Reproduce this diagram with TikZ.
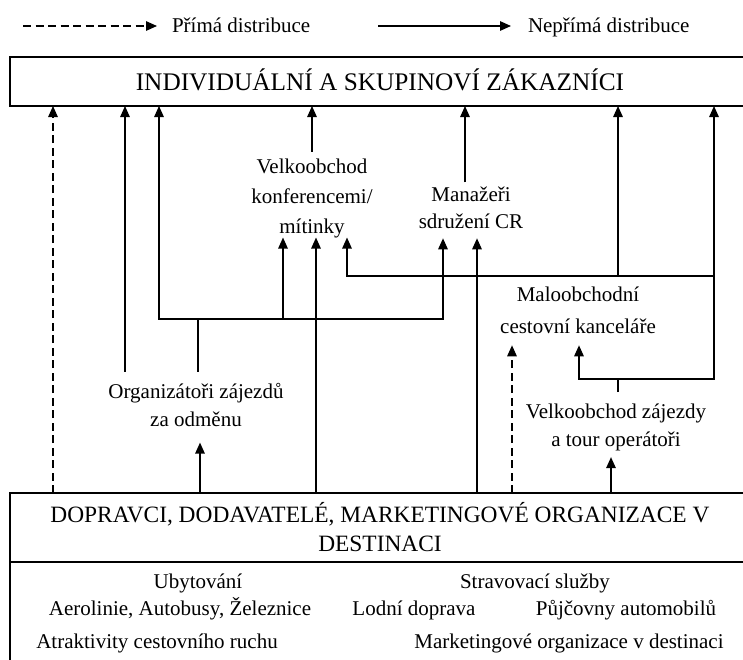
\documentclass[tikz,border=0pt]{standalone}
\usepackage{fontspec}
\setmainfont{Liberation Serif}
\usetikzlibrary{arrows.meta}
\begin{document}
\begin{tikzpicture}[x=1pt,y=-1pt,
  ln/.style={line width=1.4pt},
  arr/.style={ln,-{Triangle[length=11pt,width=9.5pt]}},
  darr/.style={arr,dash pattern=on 8pt off 4.5pt},
  lbl/.style={inner sep=0pt,outer sep=0pt,align=center},
  boxst/.style={draw,line width=1.5pt,inner sep=0pt,outer sep=0pt,minimum width=740pt}]
\useasboundingbox (0,0) rectangle (743,659);
\clip (0,0) rectangle (743,659);

% legend
\coordinate (lg1) at (23,26);
\coordinate (lg2) at (378,26);
\node[lbl,anchor=base west,font=\fontsize{21}{28}\selectfont] (pd) at (172,32.5) {Přímá distribuce};
\node[lbl,anchor=base west,font=\fontsize{21}{28}\selectfont] (nd) at (528,32.5) {Nepřímá distribuce};
\draw[darr,shorten >=15pt] (lg1) -- (lg1 -| pd.west);
\draw[arr,shorten >=17pt] (lg2) -- (lg2 -| nd.west);

% boxes
\node[boxst,minimum height=49pt,text height=18pt,text depth=0pt,font=\fontsize{25.3}{30}\selectfont] (top) at (380,81.5) {INDIVIDUÁLNÍ A SKUPINOVÍ ZÁKAZNÍCI};
\node[boxst,minimum height=69pt,align=center,font=\fontsize{23.4}{29}\selectfont] (bot) at (380,527.5) {DOPRAVCI, DODAVATELÉ, MARKETINGOVÉ ORGANIZACE V\\DESTINACI};
\node[boxst,minimum height=130pt,anchor=north] (list) at (bot.south) {};

% list items
\begin{scope}[every node/.style={lbl,anchor=base,font=\fontsize{21}{28}\selectfont}]
\node (i1) at (198,588) {Ubytování};
\node (i2) at (535,588) {Stravovací služby};
\node (i3) at (180,615) {Aerolinie, Autobusy, Železnice};
\node (i4) at (414,615) {Lodní doprava};
\node (i5) at (626,615) {Půjčovny automobilů};
\node (i6) at (157,648) {Atraktivity cestovního ruchu};
\node (i7) at (569,648) {Marketingové organizace v destinaci};
\end{scope}

% intermediaries
\node[lbl,font=\fontsize{21}{30}\selectfont] (vk) at (312,198) {Velkoobchod\\konferencemi/\\mítinky};
\node[lbl,font=\fontsize{21}{27}\selectfont] (man) at (471,207.4) {Manažeři\\sdružení CR};
\node[lbl,font=\fontsize{21}{28}\selectfont] (org) at (196,404.9) {Organizátoři zájezdů\\za odměnu};
\node[lbl,font=\fontsize{21}{32}\selectfont] (malo) at (578,309.9) {Maloobchodní\\cestovní kanceláře};
\node[lbl,font=\fontsize{21}{28}\selectfont] (vz) at (616,427.1) {Velkoobchod zájezdy\\a tour operátoři};

% columns and junctions
\coordinate (c53) at (53,0);
\coordinate (c125) at (125,0);
\coordinate (c200) at (200,0);
\coordinate (c316) at (316,0);
\coordinate (c465) at (465,0);
\coordinate (c477) at (477,0);
\coordinate (c512) at (512,0);
\coordinate (c611) at (611,0);
\coordinate (jOrg) at (198,319);
\coordinate (hA1) at (159,319);
\coordinate (hA2) at (443,319);
\coordinate (jA283) at (283,319);
\coordinate (hB1) at (347,276);
\coordinate (jB618) at (618,276);
\coordinate (hB2) at (714,276);
\coordinate (jVz) at (618,379);
\coordinate (hC1) at (579,379);
\coordinate (hC2) at (714,379);

% connectors
\draw[darr] (c53 |- bot.north) -- (c53 |- top.south);
\draw[arr,shorten <=11.5pt] (c125 |- org.north) -- (c125 |- top.south);
\draw[ln,shorten <=11.5pt] (jOrg |- org.north) -- (jOrg);
\draw[arr] (jOrg) -- (hA1) -- (hA1 |- top.south);
\draw[arr,shorten >=10pt] (jOrg) -- (hA2) -- (hA2 |- man.south);
\draw[arr] (jA283) -- (jA283 |- vk.south);
\draw[arr,shorten <=6.5pt] (vk.north) -- (vk.north |- top.south);
\draw[arr,shorten <=4pt] (c465 |- man.north) -- (c465 |- top.south);
\draw[arr] (c316 |- bot.north) -- (c316 |- vk.south);
\draw[arr,shorten >=10pt] (c477 |- bot.north) -- (c477 |- man.south);
\draw[arr] (jB618) -- (hB1) -- (hB1 |- vk.south);
\draw[arr] (jB618) -- (jB618 |- top.south);
\draw[ln] (jB618) -- (hB2);
\draw[ln,shorten <=11.5pt] (jVz |- vz.north) -- (jVz);
\draw[arr] (jVz) -- (hC2) -- (hC2 |- top.south);
\draw[arr,shorten >=12pt] (jVz) -- (hC1) -- (hC1 |- malo.south);
\draw[darr,shorten >=12pt] (c512 |- bot.north) -- (c512 |- malo.south);
\draw[arr,shorten >=6.5pt] (c611 |- bot.north) -- (c611 |- vz.south);
\draw[arr,shorten >=16pt] (c200 |- bot.north) -- (c200 |- org.south);
\end{tikzpicture}
\end{document}
